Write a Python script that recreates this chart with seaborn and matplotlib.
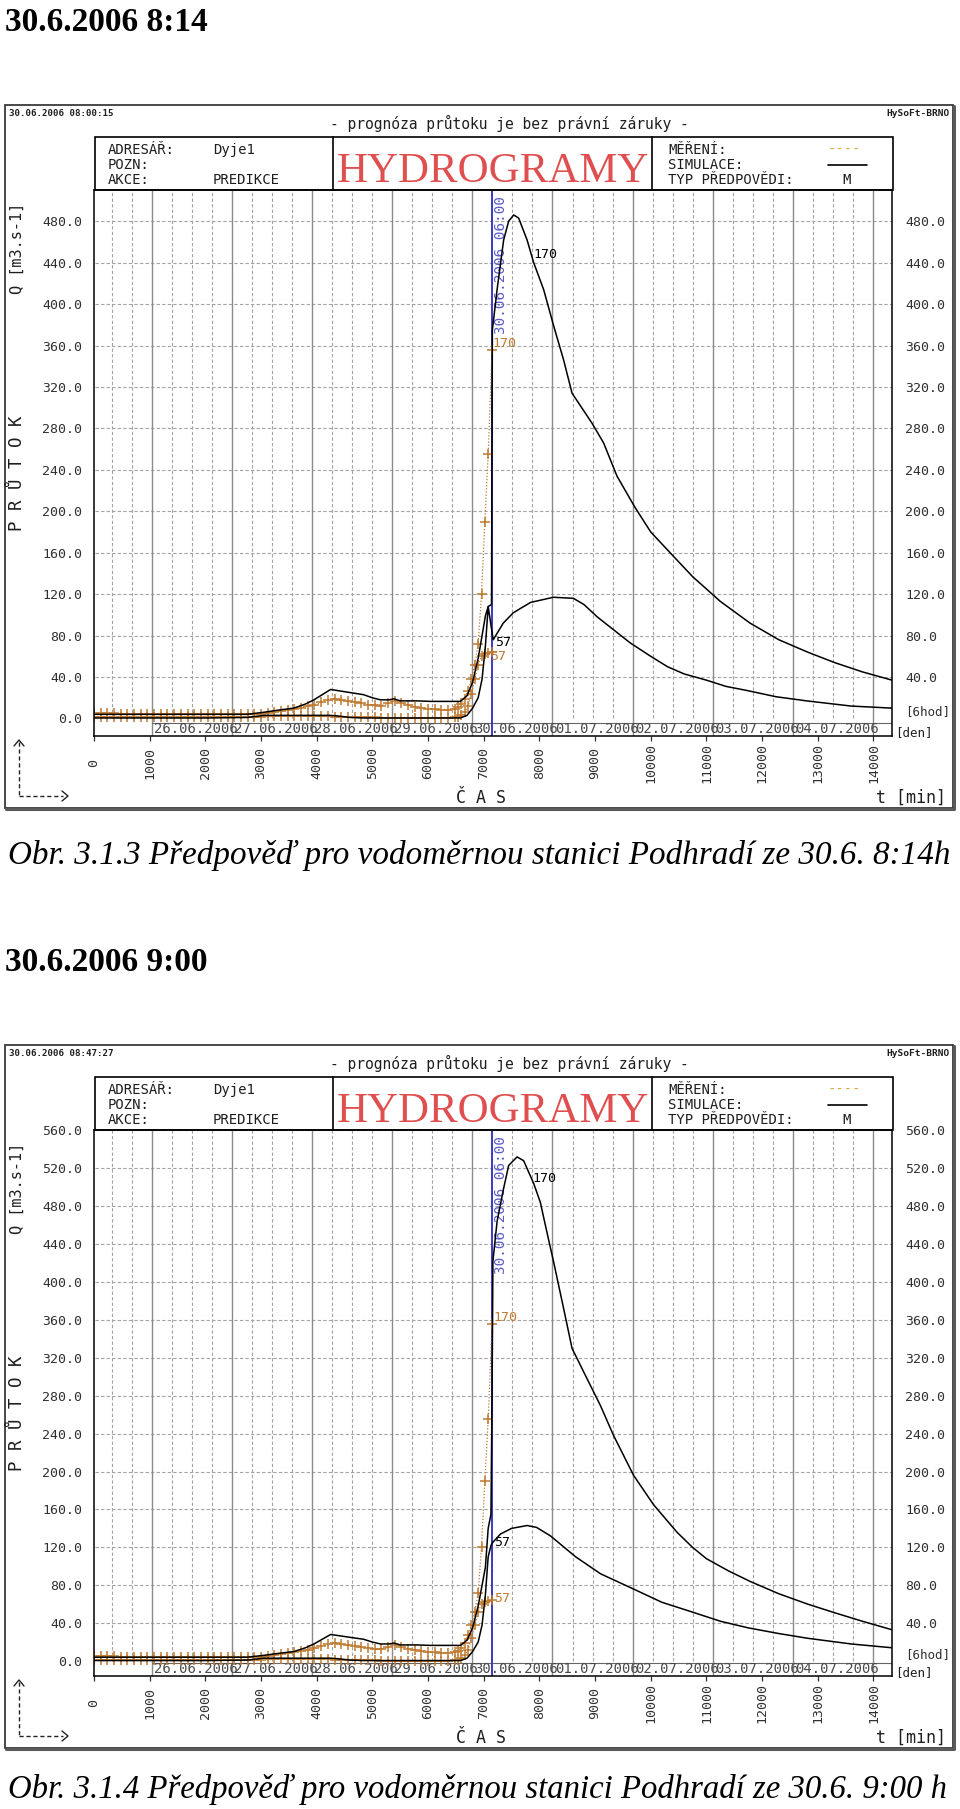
import numpy as np
import matplotlib
matplotlib.use("Agg")
import matplotlib.pyplot as plt
import seaborn as sns
from matplotlib.patches import Rectangle
from matplotlib.lines import Line2D

sns.set_style("white")
plt.rcParams['font.family'] = ['DejaVu Sans Mono', 'DejaVu Sans']

# ---------------- data ----------------
titles = ["30.6.2006 8:14", "30.6.2006 9:00"]
captions = ["Obr. 3.1.3 Předpověď pro vodoměrnou stanici Podhradí ze 30.6. 8:14h",
            "Obr. 3.1.4 Předpověď pro vodoměrnou stanici Podhradí ze 30.6. 9:00 h"]
stamps = ["30.06.2006 08:00:15", "30.06.2006 08:47:27"]
day_labels = ["26.06.2006", "27.06.2006", "28.06.2006", "29.06.2006", "30.06.2006",
              "01.07.2006", "02.07.2006", "03.07.2006", "04.07.2006"]
day_starts = [1035, 2475, 3915, 5355, 6795, 8235, 9675, 11115, 12555, 13995]
x_ticks = [0, 1000, 2000, 3000, 4000, 5000, 6000, 7000, 8000, 9000, 10000,
           11000, 12000, 13000, 14000]
forecast_time = 7155
forecast_label = "30.06.2006 06:00"
station_names = ["170", "57"]

# measured discharge (station 170 and 57), minutes from start
t_meas = list(range(0, 6481, 120)) + [6540, 6600, 6660, 6720, 6780, 6840, 6900,
                                       6960, 7020, 7080, 7150]
q_meas_170 = [5, 5, 5, 5, 4.5, 4.5, 4.5, 4.5, 4.5, 4, 4, 4, 4, 4, 4, 4, 4, 4, 4, 4,
              4, 4, 4, 4, 4, 4.5, 5, 6, 7, 8, 9, 10.5, 12, 13.5, 15.5, 17.5, 19, 18,
              16.5, 15.5, 14.5, 13.5, 13, 12.5, 14.5, 17, 15, 13, 11.5, 10.5, 9.5, 9,
              8.5, 8.5, 9.5,
              11, 14, 19, 27, 38, 52, 72, 120, 190, 255, 356]
q_meas_57 = [1, 1, 1, 1, 1, 1, 1, 1, 1, 1, 1, 1, 1, 1, 1, 1, 1, 1, 1, 1,
             1, 1, 1, 1, 1, 1.5, 2, 2, 2.5, 2.5, 2.5, 2.5, 2.5, 2.5, 2, 2, 1.5, 1.5,
             1, 1, 1, 1, 1, 0.5, 0.5, 0.5, 0.5, 0.5, 0.5, 0.5, 0.5, 0.5, 0.5, 0.5, 1,
             1.5, 3, 6, 12, 24, 38, 52, 60, 62, 63, 64]

# simulated discharge before the forecast time (shared)
t_sim = [0, 1000, 2000, 2750, 3050, 3300, 3590, 3800, 3950, 4100, 4250, 4370, 4600,
         4840, 5000, 5145, 5300, 5384, 5500, 5800, 6043, 6300, 6580, 6700, 6800,
         6900, 6970, 7030]
q_sim_170 = [4, 4, 4, 4, 6, 8, 10, 14, 18, 23, 28, 27, 25, 23, 20, 18, 18, 19, 17,
             17, 16.5, 16.5, 16.5, 22, 35, 58, 80, 99]
q_sim_57 = [0.5, 0.5, 0.5, 1, 3, 3, 3, 3, 3, 3, 3, 2.5, 1, 0.5, 0.5, 0.5, 0.5, 0.5,
            0.5, 0.5, 0.5, 0.5, 0.5, 3, 10, 20, 38, 70]

# forecast 8:14
p1_t170 = [7080, 7140, 7155, 7240, 7358, 7448, 7538, 7627, 7778, 7897, 8076, 8256,
           8435, 8586, 8945, 9153, 9393, 9714, 10000, 10400, 10750, 11250, 11785,
           12300, 12821, 13300, 13800, 14333]
p1_q170 = [108, 110, 375, 414, 462, 480, 486, 483, 462, 440, 414, 379, 346, 314,
           285, 266, 234, 204, 180, 157, 137, 113, 92, 76, 64, 54, 45, 37]
p1_t57 = [7080, 7130, 7170, 7350, 7530, 7840, 8250, 8610, 8800, 9040, 9630, 10000,
          10300, 10600, 11000, 11350, 11730, 12250, 12800, 13600, 14333]
p1_q57 = [108, 90, 76, 92, 102, 112, 117, 116, 110, 98, 73, 60, 50, 43, 37, 31, 27,
          21, 17, 12, 10]

# forecast 9:00
p2_t170 = [7080, 7130, 7150, 7165, 7240, 7358, 7448, 7599, 7717, 7897, 8017, 8137,
           8256, 8435, 8586, 8855, 9093, 9332, 9691, 10050, 10470, 10750, 11000,
           11400, 11785, 12300, 12821, 13300, 13800, 14333]
p2_q170 = [140, 155, 284, 422, 464, 499, 523, 532, 528, 504, 484, 452, 421, 372,
           330, 298, 270, 238, 196, 165, 136, 120, 108, 95, 84, 71, 60, 51, 42, 33]
p2_t57 = [7080, 7130, 7160, 7300, 7500, 7780, 7950, 8200, 8650, 9100, 9690, 10200,
          10730, 11250, 11750, 12300, 12820, 13600, 14333]
p2_q57 = [110, 122, 125, 134, 140, 143, 141, 132, 110, 92, 76, 62, 52, 42, 35, 29,
          24, 18, 14]

# ---------------- styling ----------------
W, H = 960, 1809
ORANGE = "#c07a30"
ORANGE_L = "#d9a54a"
BLUE = "#3b3bc4"
BLUE_T = "#5c5cc8"
GRID = "#a3a3a3"
TXT = "#1e1e1e"
SERIF = "Liberation Serif"
XMIN, XMAX = 10, 14333

fig = plt.figure(figsize=(9.6, 18.09), dpi=100)
fig.patch.set_facecolor("white")
renderer = fig.canvas.get_renderer()


def P(x, y):
    return x / W, 1 - y / H


def ftext(x, y, s, **kw):
    kw.setdefault("color", TXT)
    return fig.text(*P(x, y), s, **kw)


def fline(xs, ys, **kw):
    fig.add_artist(Line2D([x / W for x in xs], [1 - y / H for y in ys],
                          transform=fig.transFigure, **kw))


def fit(txt, target):
    w = txt.get_window_extent(renderer).width
    txt.set_fontsize(txt.get_fontsize() * target / w)


def draw_panel(off, title, caption, cap_y, stamp, ytop, ylim, t170, q170, t57, q57, labels):
    # page title and caption
    tt = ftext(5, 31 + off, title, family=SERIF, weight="bold", fontsize=22,
               va="baseline", ha="left", color="black")
    fit(tt, 202)
    cp = ftext(8, cap_y, caption, family=SERIF, style="italic", fontsize=23,
               va="baseline", ha="left", color="black")
    fit(cp, 942)

    # screenshot frame
    fig.add_artist(Rectangle(P(5, 808 + off), 948 / W, 703 / H, transform=fig.transFigure,
                             fill=False, lw=1.3, ec="#3a3a3a"))
    fline([6, 953.5, 953.5], [809 + off, 809 + off, 106 + off], color="#5a5a5a", lw=2.2)

    ftext(9, 114 + off, stamp, fontsize=6.6, weight="bold", va="center")
    ftext(950, 114 + off, "HySoFt-BRNO", fontsize=6.8, weight="bold", va="center", ha="right")
    ftext(509, 123 + off, "- prognóza průtoku je bez právní záruky -", fontsize=10.5,
          va="center", ha="center")

    # header box
    fig.add_artist(Rectangle(P(95, 190 + off), 798 / W, 53 / H, transform=fig.transFigure,
                             fill=False, lw=1.2, ec="black"))
    fline([333, 333], [137 + off, 190 + off], color="black", lw=1.2)
    fline([652, 652], [137 + off, 190 + off], color="black", lw=1.2)
    for (x, y, s) in [(108, 150, "ADRESÁŘ:"), (213, 150, "Dyje1"), (108, 165, "POZN:"),
                      (108, 180, "AKCE:"), (213, 180, "PREDIKCE"), (668, 150, "MĚŘENÍ:"),
                      (668, 165, "SIMULACE:"), (668, 180, "TYP PŘEDPOVĚDI:")]:
        ftext(x, y + off, s, fontsize=10, va="center")
    ftext(828, 150 + off, "----", fontsize=10, va="center", color=ORANGE_L)
    fline([828, 867], [165 + off, 165 + off], color="black", lw=1.2)
    ftext(847, 180 + off, "M", fontsize=10, va="center", ha="center")
    hg = ftext(493, 182 + off, "HYDROGRAMY", family=SERIF, fontsize=34, color="#e04f4f",
               ha="center", va="baseline")
    fit(hg, 312)

    # side / bottom annotations
    ftext(17, 248 + off, "Q [m3.s-1]", rotation=90, fontsize=11, ha="center", va="center")
    ftext(17, 473 + off, "P R Ů T O K", rotation=90, fontsize=12.5, ha="center", va="center")
    ftext(481, 798 + off, "Č A S", fontsize=12, ha="center", va="center")
    ftext(946, 798 + off, "t [min]", fontsize=12, ha="right", va="center")
    fline([19, 19], [742 + off, 796 + off], color="#222", lw=1, linestyle=(0, (3, 2)))
    fline([19, 63], [796 + off, 796 + off], color="#222", lw=1, linestyle=(0, (3, 2)))
    fline([14, 19, 24], [746 + off, 740 + off, 746 + off], color="#222", lw=1)
    fline([62, 68, 62], [791 + off, 796 + off, 801 + off], color="#222", lw=1)

    # plot axes
    ax = fig.add_axes([94 / W, 1 - (736 + off) / H, 798 / W, 546 / H])
    ax.set_facecolor("white")

    yt = np.arange(0, ytop + 1, 40)
    six_h = [v for v in np.arange(day_starts[0] - 720, XMAX, 360) if v not in day_starts]
    ax.hlines(yt[1:], XMIN, XMAX, colors=GRID, linestyles=(0, (3, 2)), lw=0.8, zorder=0.5)
    ax.vlines(six_h, 0, ylim[1], colors=GRID, linestyles=(0, (3, 2)), lw=0.8, zorder=0.5)
    ax.vlines(day_starts, ylim[0], ylim[1], colors="#8a8a8a", lw=1.0, zorder=0.6)
    ax.plot([day_starts[0], XMAX], [0.024, 0.024], transform=ax.get_xaxis_transform(),
            color="#666", lw=0.8, zorder=0.6)
    for d, s in zip(day_starts, day_labels):
        ax.text(d + 40, 0.0125, s, transform=ax.get_xaxis_transform(), fontsize=10,
                color="#4a4a4a", va="center", ha="left", clip_on=True, zorder=1)
    ax.text(1.004, 0.006, "[den]", transform=ax.transAxes, ha="left", va="center",
            fontsize=9, color=TXT)

    ax.axvline(forecast_time, color=BLUE, lw=1.4, zorder=1.5)
    ax.text(forecast_time + 36, 0.989, forecast_label, transform=ax.get_xaxis_transform(),
            rotation=90, ha="left", va="top", color=BLUE_T, fontsize=10.4, zorder=1.6)

    # simulations
    sns.lineplot(x=t_sim + t170, y=q_sim_170 + q170, ax=ax, color="black", lw=1.1,
                 errorbar=None, zorder=3)
    sns.lineplot(x=t_sim + t57, y=q_sim_57 + q57, ax=ax, color="black", lw=1.1,
                 errorbar=None, zorder=3)
    # measurements
    for q in (q_meas_170, q_meas_57):
        sns.lineplot(x=t_meas, y=q, ax=ax, color=ORANGE, lw=0.9, linestyle=(0, (1, 1.5)),
                     marker="+", markersize=6.5, markeredgecolor=ORANGE, markeredgewidth=1.1,
                     errorbar=None, zorder=2.5)

    for (x, y, s, c) in labels:
        ax.text(x, y, s, color=c, fontsize=9.5, ha="left", va="center", zorder=4)

    ax.set_xlim(XMIN, XMAX)
    ax.set_ylim(*ylim)
    ax.set_xlabel("")
    ax.set_ylabel("")

    ax.set_xticks(x_ticks)
    ax.set_xticklabels([str(v) for v in x_ticks], rotation=90, fontsize=9.5, color="#303030")
    ax.tick_params(axis="x", direction="out", length=3.6, width=0.9, pad=15.8,
                   color="#303030", bottom=True)
    for lbl in ax.get_xticklabels():
        lbl.set_va("center")

    ax.set_yticks(yt)
    ax.set_yticklabels([f"{v:.1f}" for v in yt], fontsize=9.5, color="#303030")
    ax.tick_params(axis="y", length=0, pad=8.6)
    sec = ax.secondary_yaxis("right")
    sec.set_yticks(yt, labels=["[6hod]"] + [f"{v:.1f}" for v in yt[1:]])
    sec.tick_params(length=0, pad=9.4, labelsize=9.5, labelcolor="#303030")
    sec.spines["right"].set_visible(False)
    first = sec.get_yticklabels()[0]
    first.set_va("bottom")
    first.set_fontsize(9)

    for s in ax.spines.values():
        s.set_linewidth(1.1)
        s.set_color("black")
        s.set_visible(True)
    return ax


draw_panel(0, titles[0], captions[0], 864, stamps[0], 480, (-16.9, 510.1),
           p1_t170, p1_q170, p1_t57, p1_q57,
           [(7890, 448, station_names[0], "black"), (7155, 362, station_names[0], ORANGE),
            (7208, 73, station_names[1], "black"), (7119, 60, station_names[1], ORANGE)])

draw_panel(940, titles[1], captions[1], 1798, stamps[1], 560, (-15.8, 560.4),
           p2_t170, p2_q170, p2_t57, p2_q57,
           [(7868, 509, station_names[0], "black"), (7179, 363, station_names[0], ORANGE),
            (7190, 125, station_names[1], "black"), (7190, 66, station_names[1], ORANGE)])

fig.savefig("out.png", dpi=100, facecolor="white")
